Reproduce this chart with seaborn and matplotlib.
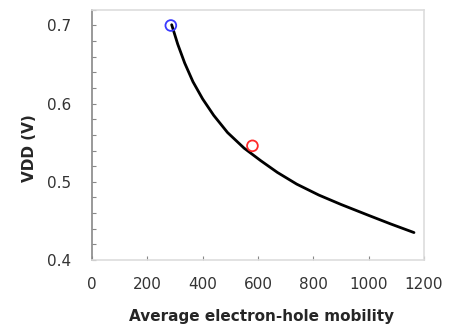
import matplotlib
matplotlib.use("Agg")
import matplotlib.pyplot as plt
import seaborn as sns
import pandas as pd
from matplotlib.ticker import MultipleLocator

# Curve data
mobility = [288, 310, 335, 365, 400, 440, 490, 550, 610, 670, 740, 820, 900, 1000, 1080, 1164]
vdd = [0.701, 0.676, 0.652, 0.628, 0.606, 0.585, 0.563, 0.543, 0.527, 0.512,
       0.497, 0.483, 0.471, 0.457, 0.446, 0.435]

# Marked points
blue_x = [285]
blue_y = [0.700]
red_x = [580]
red_y = [0.546]

sns.set_style("white")
plt.rcParams['font.family'] = ['DejaVu Sans']

fig = plt.figure(figsize=(4.51, 3.29), dpi=100)
ax = fig.add_axes([0.204, 0.210, 0.736, 0.760])

df = pd.DataFrame({"x": mobility, "y": vdd})
sns.lineplot(data=df, x="x", y="y", ax=ax, color="black", linewidth=2.0, sort=True)
sns.scatterplot(x=blue_x, y=blue_y, ax=ax, marker="o", s=60, facecolors="none",
                edgecolor="#3a3aff", linewidth=1.3, zorder=5)
sns.scatterplot(x=red_x, y=red_y, ax=ax, marker="o", s=60, facecolors="none",
                edgecolor="#ff2a2a", linewidth=1.3, zorder=5)

ax.set_xlim(0, 1200)
ax.set_ylim(0.4, 0.72)
ax.set_xticks([0, 200, 400, 600, 800, 1000, 1200])
ax.set_yticks([0.4, 0.5, 0.6, 0.7])
ax.set_yticklabels(["0.4", "0.5", "0.6", "0.7"])
ax.yaxis.set_minor_locator(MultipleLocator(0.02))
ax.tick_params(axis="both", which="major", direction="in", length=3, width=0.8,
               color="#888888", labelsize=11, labelcolor="#333333")
ax.tick_params(axis="x", which="major", pad=12, bottom=True)
ax.tick_params(axis="y", which="major", pad=15, left=True)
ax.tick_params(axis="y", which="minor", direction="in", length=3, width=0.8,
               color="#888888", left=True)

for s in ["left"]:
    ax.spines[s].set_color("#888888")
    ax.spines[s].set_linewidth(1.2)
for s in ["top", "right", "bottom"]:
    ax.spines[s].set_color("#dddddd")
    ax.spines[s].set_linewidth(1.2)

ax.set_xlabel("Average electron-hole mobility", fontsize=11, fontweight="bold")
ax.set_ylabel("VDD (V)", fontsize=11, fontweight="bold")
ax.xaxis.set_label_coords(0.51, -0.196)
ax.yaxis.set_label_coords(-0.166, 0.448)

fig.savefig("out.png", dpi=100)
